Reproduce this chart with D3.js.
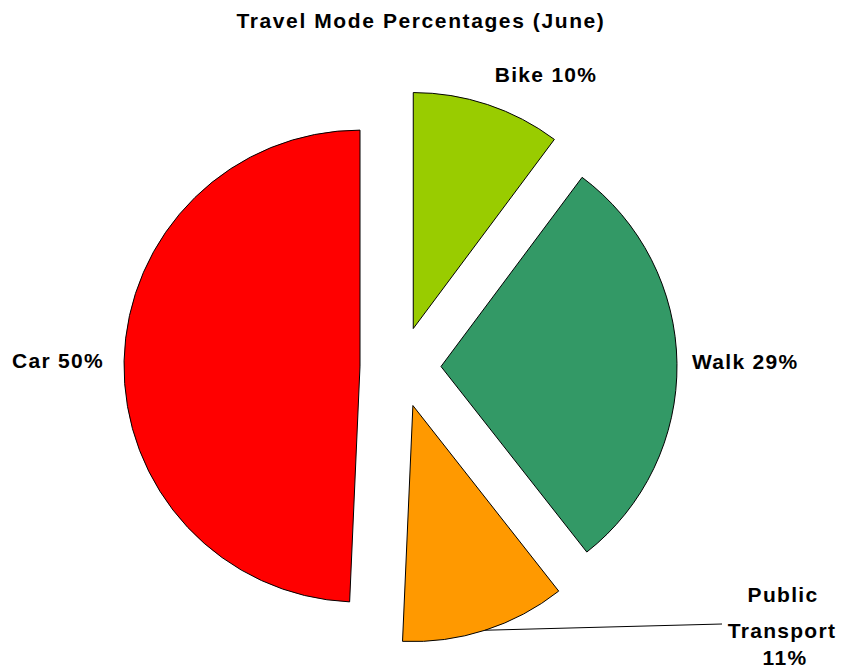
<!DOCTYPE html>
<html>
<head>
<meta charset="utf-8">
<script src="https://cdn.jsdelivr.net/npm/d3@7"></script>
<style>
  html, body { margin: 0; padding: 0; background: #fff; }
  svg { display: block; }
  text { font-family: "Liberation Sans", Arial, sans-serif; font-weight: bold; fill: #000; }
</style>
</head>
<body>
<svg id="chart" width="847" height="669"></svg>
<script>
// Data
const categories = ["Bike", "Walk", "Public Transport", "Car"];
const values = [10.2, 29.2, 11.3, 49.3];           // slice sizes (share of total)
const percentLabels = [10, 29, 11, 50];            // percentages printed on the chart
const colors = ["#99CC00", "#339966", "#FF9900", "#FF0000"];
const title = "Travel Mode Percentages (June)";

const svg = d3.select("#chart");
const cx = 400.5, cy = 367, radius = 236, explode = 40.5;

svg.append("text")
  .attr("x", 421).attr("y", 28)
  .attr("text-anchor", "middle")
  .style("font-size", "21px")
  .style("letter-spacing", "1.6px")
  .text(title);

const pie = d3.pie().sort(null).value(d => d).startAngle(0).endAngle(2 * Math.PI);
const arcs = pie(values);
const arc = d3.arc().innerRadius(0).outerRadius(radius);

const g = svg.append("g").attr("transform", `translate(${cx},${cy})`);

arcs.forEach((a, i) => {
  const mid = (a.startAngle + a.endAngle) / 2;
  const ox = explode * Math.sin(mid), oy = -explode * Math.cos(mid);
  g.append("path")
    .attr("d", arc(a))
    .attr("transform", `translate(${ox},${oy})`)
    .attr("fill", colors[i])
    .attr("stroke", "#000")
    .attr("stroke-width", 1)
    .attr("stroke-linejoin", "miter");
});

// Labels
const labelFont = "21px";
const ls = "1.3px";
function lab(x, y, anchor, txt) {
  svg.append("text").attr("x", x).attr("y", y).attr("text-anchor", anchor)
    .style("font-size", labelFont).style("letter-spacing", ls).text(txt);
}
lab(546, 82, "middle", `${categories[0]} ${percentLabels[0]}%`);
lab(692, 369, "start", `${categories[1]} ${percentLabels[1]}%`);
lab(12, 368, "start", `${categories[3]} ${percentLabels[3]}%`);

// Public transport label (three lines) with leader line
const ptWords = categories[2].split(" ");
lab(783, 602, "middle", ptWords[0]);
lab(782, 638, "middle", ptWords[1]);
lab(785, 665, "middle", `${percentLabels[2]}%`);

const pt = arcs[2];
const ptMid = (pt.startAngle + pt.endAngle) / 2;
const ptox = explode * Math.sin(ptMid), ptoy = -explode * Math.cos(ptMid);
const sx = cx + ptox + radius * Math.sin(ptMid);
const sy = cy + ptoy - radius * Math.cos(ptMid);
svg.append("line")
  .attr("x1", sx).attr("y1", sy)
  .attr("x2", 722).attr("y2", 624)
  .attr("stroke", "#000").attr("stroke-width", 1);
</script>
</body>
</html>
